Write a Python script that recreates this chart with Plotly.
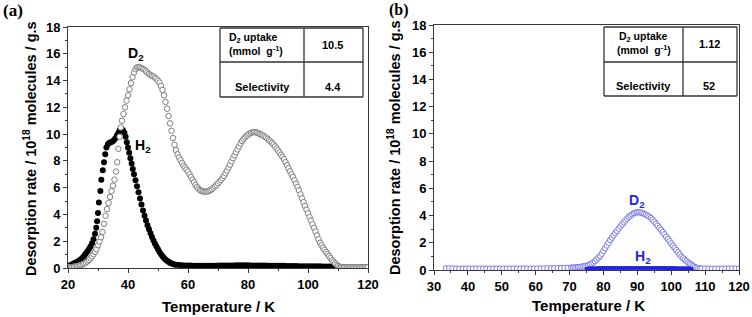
import plotly.graph_objects as go

# ---------------- data: panel (a) ----------------
a_d2_T = [20.0, 20.5, 21.0, 21.5, 22.0, 22.5, 23.0, 23.5, 24.0, 24.5, 25.0, 25.5, 26.0, 26.5, 27.0, 27.5,
          28.0, 28.5, 29.0, 29.5, 30.0, 30.5, 31.0, 31.5, 32.0, 32.5, 33.0, 33.5, 34.0, 34.5, 35.0, 35.5,
          36.0, 36.4, 36.8, 37.2, 37.6, 38.0, 38.5, 39.0, 39.5, 40.0, 40.5, 41.0, 41.5, 42.0, 42.5, 43.0,
          43.5, 44.0, 44.5, 45.0, 45.5, 46.0, 46.5, 47.0, 47.5, 48.0, 48.5, 49.0, 49.5, 50.0, 50.5, 51.0,
          51.5, 52.0, 52.5, 53.0, 53.5, 54.0, 54.5, 55.0, 55.5, 56.0, 56.5, 57.0, 57.5, 58.0, 58.5, 59.0,
          59.5, 60.0, 60.5, 61.0, 61.5, 62.0, 62.5, 63.0, 63.5, 64.0, 64.5, 65.0, 65.5, 66.0, 66.5, 67.0,
          67.5, 68.0, 68.5, 69.0, 69.5, 70.0, 70.5, 71.0, 71.5, 72.0, 72.5, 73.0, 73.5, 74.0, 74.5, 75.0,
          75.5, 76.0, 76.5, 77.0, 77.5, 78.0, 78.5, 79.0, 79.5, 80.0, 80.5, 81.0, 81.5, 82.0, 82.5, 83.0,
          83.5, 84.0, 84.5, 85.0, 85.5, 86.0, 86.5, 87.0, 87.5, 88.0, 88.5, 89.0, 89.5, 90.0, 90.5, 91.0,
          91.5, 92.0, 92.5, 93.0, 93.5, 94.0, 94.5, 95.0, 95.5, 96.0, 96.5, 97.0, 97.5, 98.0, 98.5, 99.0,
          99.5, 100.0, 100.5, 101.0, 101.5, 102.0, 102.5, 103.0, 103.5, 104.0, 104.5, 105.0, 105.5, 106.0,
          106.5, 107.0, 107.5, 108.0, 108.5, 109.0, 109.5, 110.0, 110.5, 111.0, 111.5, 112.0, 112.5, 113.0,
          113.5, 114.0, 114.5, 115.0, 115.5, 116.0, 116.5, 117.0, 117.5, 118.0, 118.5, 119.0, 119.5, 120.0]
a_d2_rate = [0.05, 0.06, 0.07, 0.08, 0.10, 0.12, 0.14, 0.17, 0.20, 0.24, 0.29, 0.35, 0.42, 0.50, 0.60, 0.72,
             0.86, 1.02, 1.20, 1.42, 1.70, 1.98, 2.30, 2.70, 3.30, 3.90, 4.40, 4.85, 5.30, 5.75, 6.15, 6.60,
             7.20, 7.90, 8.90, 9.80, 10.50, 11.00, 11.50, 12.00, 12.50, 12.90, 13.35, 13.80, 14.25, 14.60, 14.85, 14.98,
             15.00, 14.98, 14.93, 14.87, 14.80, 14.70, 14.60, 14.50, 14.42, 14.35, 14.30, 14.22, 14.12, 14.00, 13.85, 13.60,
             13.30, 12.90, 12.40, 11.90, 11.35, 10.80, 10.25, 9.70, 9.20, 8.80, 8.50, 8.25, 8.05, 7.85, 7.65, 7.50,
             7.35, 7.20, 7.00, 6.80, 6.60, 6.40, 6.20, 6.05, 5.92, 5.82, 5.76, 5.72, 5.70, 5.70, 5.72, 5.76,
             5.82, 5.90, 6.00, 6.10, 6.20, 6.32, 6.45, 6.58, 6.72, 6.88, 7.08, 7.28, 7.50, 7.72, 7.96, 8.20,
             8.42, 8.64, 8.86, 9.08, 9.30, 9.48, 9.63, 9.76, 9.87, 9.96, 10.04, 10.10, 10.14, 10.15, 10.14, 10.11,
             10.06, 10.00, 9.95, 9.90, 9.82, 9.75, 9.65, 9.55, 9.45, 9.35, 9.22, 9.08, 8.93, 8.78, 8.62, 8.46,
             8.30, 8.12, 7.90, 7.68, 7.45, 7.22, 7.00, 6.80, 6.55, 6.30, 6.05, 5.80, 5.50, 5.20, 4.92, 4.63,
             4.35, 4.08, 3.80, 3.53, 3.27, 3.00, 2.72, 2.44, 2.15, 1.88, 1.70, 1.52, 1.36, 1.20,
             1.05, 0.90, 0.75, 0.60, 0.47, 0.35, 0.25, 0.16, 0.10, 0.07, 0.06, 0.06, 0.06, 0.06,
             0.06, 0.06, 0.06, 0.06, 0.06, 0.06, 0.06, 0.06, 0.06, 0.06, 0.06, 0.06, 0.06, 0.06]

a_h2_T = [20.0, 20.5, 21.0, 21.5, 22.0, 22.5, 23.0, 23.5, 24.0, 24.5, 25.0, 25.5, 26.0, 26.5, 27.0, 27.5,
          28.0, 28.5, 29.0, 29.4, 29.7, 30.0, 30.3, 30.8, 31.1, 31.6, 32.0, 32.4, 32.8, 33.3, 33.8, 34.3,
          34.8, 35.3, 35.8, 36.3, 36.8, 37.3, 37.8, 38.3, 38.8, 39.2, 39.6, 40.0, 40.4, 40.8, 41.2, 41.6,
          42.0, 42.5, 43.0, 43.5, 44.0, 44.5, 45.0, 45.5, 46.0, 46.5, 47.0, 47.5, 48.0, 48.5, 49.0, 49.5,
          50.0, 50.5, 51.0, 51.5, 52.0, 52.5, 53.0, 53.5, 54.0, 54.5, 55.0, 55.5, 56.0, 57.0, 58.0, 59.0,
          60.0, 61.0, 62.0, 63.0, 64.0, 65.0, 66.0, 67.0, 68.0, 69.0, 70.0, 71.0, 72.0, 73.0, 74.0, 75.0,
          76.0, 77.0, 78.0, 79.0, 80.0, 81.0, 82.0, 83.0, 84.0, 85.0, 86.0, 87.0, 88.0, 89.0, 90.0, 91.0,
          92.0, 93.0, 94.0, 95.0, 96.0, 97.0, 98.0, 99.0, 100.0, 101.0, 102.0, 103.0, 104.0, 105.0, 106.0,
          107.0, 108.0, 109.0]
a_h2_rate = [0.15, 0.18, 0.22, 0.28, 0.35, 0.40, 0.45, 0.52, 0.60, 0.70, 0.80, 0.95, 1.10, 1.25, 1.42, 1.60,
             1.85, 2.15, 2.55, 3.00, 3.50, 4.10, 4.90, 5.75, 6.60, 7.30, 7.90, 8.50, 9.00, 9.25, 9.35, 9.40,
             9.45, 9.55, 9.70, 9.90, 10.10, 10.30, 10.40, 10.30, 10.10, 9.80, 9.40, 9.00, 8.60, 8.20, 7.80, 7.40,
             7.00, 6.55, 6.10, 5.65, 5.20, 4.75, 4.30, 3.90, 3.55, 3.20, 2.90, 2.60, 2.32, 2.06, 1.82, 1.60,
             1.40, 1.20, 1.03, 0.88, 0.75, 0.64, 0.54, 0.46, 0.39, 0.34, 0.30, 0.27, 0.25, 0.22, 0.20, 0.19,
             0.18, 0.18, 0.17, 0.17, 0.17, 0.17, 0.17, 0.17, 0.17, 0.17, 0.18, 0.18, 0.18, 0.19, 0.19, 0.19,
             0.20, 0.20, 0.20, 0.20, 0.20, 0.19, 0.19, 0.19, 0.18, 0.18, 0.18, 0.17, 0.17, 0.17, 0.16, 0.16,
             0.16, 0.15, 0.15, 0.15, 0.15, 0.14, 0.14, 0.14, 0.14, 0.13, 0.13, 0.13, 0.13, 0.12, 0.12,
             0.12, 0.12, 0.11]

# ---------------- data: panel (b) ----------------
b_d2_T = [33.5, 34.5, 35.5, 36.5, 37.5, 38.5, 39.5, 40.5, 41.5, 42.5, 43.5, 44.5, 45.5, 46.5, 47.5, 48.5,
          49.5, 50.5, 51.5, 52.5, 53.5, 54.5, 55.5, 56.5, 57.5, 58.5, 59.5, 60.5, 61.5, 62.5, 63.5, 64.5,
          65.5, 66.5, 67.5, 68.5, 69.5, 70.5, 71.0, 71.5, 72.0, 72.5, 73.0, 73.5, 74.0, 74.5, 75.0, 75.5,
          76.0, 76.5, 77.0, 77.5, 78.0, 78.5, 79.0, 79.5, 80.0, 80.5, 81.0, 81.5, 82.0, 82.5, 83.0, 83.5,
          84.0, 84.5, 85.0, 85.5, 86.0, 86.5, 87.0, 87.5, 88.0, 88.5, 89.0, 89.5, 90.0, 90.5, 91.0, 91.5,
          92.0, 92.5, 93.0, 93.5, 94.0, 94.5, 95.0, 95.5, 96.0, 96.5, 97.0, 97.5, 98.0, 98.5, 99.0, 99.5,
          100.0, 100.5, 101.0, 101.5, 102.0, 102.5, 103.0, 103.5, 104.0, 104.5, 105.0, 105.5, 106.0, 106.5,
          107.0, 107.5, 108.0, 108.5, 109.0, 110.0, 111.0, 112.0, 113.0, 114.0, 115.0, 116.0, 117.0, 118.0,
          119.0, 120.0]
b_d2_rate = [0.12, 0.11, 0.12, 0.10, 0.10, 0.10, 0.10, 0.10, 0.10, 0.10, 0.10, 0.10, 0.10, 0.10, 0.10, 0.10,
             0.10, 0.10, 0.10, 0.10, 0.10, 0.10, 0.10, 0.10, 0.10, 0.10, 0.10, 0.11, 0.11, 0.11, 0.12, 0.12,
             0.13, 0.13, 0.14, 0.15, 0.16, 0.17, 0.18, 0.19, 0.20, 0.21, 0.22, 0.24, 0.26, 0.28, 0.31, 0.35,
             0.40, 0.47, 0.55, 0.65, 0.78, 0.90, 1.02, 1.20, 1.40, 1.60, 1.80, 2.00, 2.20, 2.38, 2.55, 2.72,
             2.88, 3.04, 3.20, 3.35, 3.50, 3.64, 3.78, 3.90, 4.00, 4.10, 4.18, 4.22, 4.25, 4.24, 4.22, 4.18,
             4.12, 4.06, 4.00, 3.92, 3.82, 3.70, 3.55, 3.40, 3.25, 3.10, 2.95, 2.79, 2.62, 2.45, 2.28, 2.12,
             1.95, 1.78, 1.62, 1.46, 1.30, 1.14, 0.98, 0.86, 0.75, 0.65, 0.55, 0.46, 0.37, 0.29,
             0.22, 0.17, 0.13, 0.11, 0.10, 0.10, 0.10, 0.10, 0.10, 0.10, 0.10, 0.10, 0.10, 0.10,
             0.10, 0.10]

b_h2_T = [75.0, 75.5, 76.0, 76.5, 77.0, 77.5, 78.0, 78.5, 79.0, 79.5, 80.0, 80.5, 81.0, 81.5, 82.0, 82.5,
          83.0, 83.5, 84.0, 84.5, 85.0, 85.5, 86.0, 86.5, 87.0, 87.5, 88.0, 88.5, 89.0, 89.5, 90.0, 90.5,
          91.0, 91.5, 92.0, 92.5, 93.0, 93.5, 94.0, 94.5, 95.0, 95.5, 96.0, 96.5, 97.0, 97.5, 98.0, 98.5,
          99.0, 99.5, 100.0, 100.5, 101.0, 101.5, 102.0, 102.5, 103.0, 103.5, 104.0, 104.5, 105.0, 105.5, 106.0]
b_h2_rate = [0.10, 0.11, 0.12, 0.12, 0.13, 0.13, 0.13, 0.14, 0.14, 0.14, 0.14, 0.15, 0.15, 0.15, 0.15, 0.15,
             0.15, 0.15, 0.15, 0.15, 0.15, 0.15, 0.15, 0.15, 0.15, 0.15, 0.15, 0.15, 0.15, 0.15, 0.15, 0.15,
             0.15, 0.15, 0.15, 0.15, 0.15, 0.15, 0.15, 0.15, 0.15, 0.15, 0.15, 0.15, 0.15, 0.15, 0.14, 0.14,
             0.14, 0.14, 0.14, 0.14, 0.14, 0.13, 0.13, 0.13, 0.13, 0.13, 0.12, 0.12, 0.12, 0.11, 0.10]

a_x_ticks = [20, 40, 60, 80, 100, 120]
b_x_ticks = [30, 40, 50, 60, 70, 80, 90, 100, 110, 120]
y_ticks = [0, 2, 4, 6, 8, 10, 12, 14, 16, 18]

table_a = {"uptake": "10.5", "selectivity": "4.4"}
table_b = {"uptake": "1.12", "selectivity": "52"}

# ---------------- layout helpers ----------------
W, H = 752, 317
def px(x):
    return x / W
def py(y):
    return 1 - y / H

FONT = "Liberation Sans, Arial, sans-serif"
AXC = "#3a3a3a"
BLUE = "#2323e6"

fig = go.Figure()

fig.add_trace(go.Scatter(x=a_h2_T, y=a_h2_rate, mode="markers", xaxis="x", yaxis="y",
                         marker=dict(symbol="circle", size=6, color="black", line=dict(width=0)),
                         showlegend=False))
fig.add_trace(go.Scatter(x=a_d2_T, y=a_d2_rate, mode="markers", xaxis="x", yaxis="y",
                         marker=dict(symbol="circle", size=5.5, color="white",
                                     line=dict(width=1, color="#7e7e7e")),
                         showlegend=False))
fig.add_trace(go.Scatter(x=b_d2_T, y=b_d2_rate, mode="markers", xaxis="x2", yaxis="y2",
                         marker=dict(symbol="circle", size=5.5, color="white",
                                     line=dict(width=1, color="#7878e8")),
                         showlegend=False))
fig.add_trace(go.Scatter(x=b_h2_T, y=b_h2_rate, mode="markers", xaxis="x2", yaxis="y2",
                         marker=dict(symbol="circle", size=4, color=BLUE, line=dict(width=0)),
                         showlegend=False))

def xaxis(domain, rng, ticks, dtick_minor, anchor):
    return dict(domain=domain, range=rng, tickmode="array", tickvals=ticks, automargin=False,
                ticks="outside", ticklen=4, tickwidth=1, tickcolor=AXC,
                minor=dict(ticks="outside", ticklen=2, dtick=dtick_minor, tickcolor=AXC),
                showline=True, linecolor=AXC, linewidth=1, mirror=True,
                showgrid=False, zeroline=False, anchor=anchor,
                tickfont=dict(family=FONT, size=13, color="black", weight="bold"))

def yaxis(domain, anchor):
    return dict(domain=domain, range=[0, 18], tickmode="array", tickvals=y_ticks, automargin=False,
                ticks="outside", ticklen=4, tickwidth=1, tickcolor=AXC,
                minor=dict(ticks="outside", ticklen=2, dtick=1, tickcolor=AXC),
                showline=True, linecolor=AXC, linewidth=1, mirror=True,
                showgrid=False, zeroline=False, anchor=anchor,
                tickfont=dict(family=FONT, size=13, color="black", weight="bold"))

ann = []
shapes = []

def bold(size, color="black", family=FONT):
    return dict(family=family, size=size, color=color, weight="bold")

def label(x, y, text, font, xanchor="center"):
    ann.append(dict(x=px(x), y=py(y), xref="paper", yref="paper", showarrow=False,
                    xanchor=xanchor, yanchor="middle", text=text, font=font))

# axis titles
for xc, yc in [(30, 149), (394, 148)]:
    ann.append(dict(x=px(xc), y=py(yc), xref="paper", yref="paper", showarrow=False,
                    textangle=-90, xanchor="center", yanchor="middle",
                    text="Desorption rate / 10<sup>18</sup> molecules / g.s", font=bold(14.5)))
for xc, yc in [(218, 306), (588, 305)]:
    label(xc, yc, "Temperature / K", bold(15))

# panel labels
SERIF = "Liberation Serif, Times New Roman, serif"
label(1, 10, "(a)", bold(17, family=SERIF), xanchor="left")
label(387, 10, "(b)", bold(16, family=SERIF), xanchor="left")

# curve labels
label(136, 54, "D<sub>2</sub>", bold(14))
label(143, 146, "H<sub>2</sub>", bold(14))
label(637, 201, "D<sub>2</sub>", bold(14, BLUE))
label(643, 257, "H<sub>2</sub>", bold(14, BLUE))

# tables
def table(x0, xm, x1, y0, ym, y1, vals, left_align):
    for (a, b, c, d) in [(x0, y0, x1, y0), (x0, y1, x1, y1), (x0, y0, x0, y1), (x1, y0, x1, y1),
                         (x0, ym, x1, ym), (xm, y0, xm, y1)]:
        shapes.append(dict(type="line", xref="paper", yref="paper", x0=px(a), y0=py(b),
                           x1=px(c), y1=py(d), line=dict(color="#333333", width=1.3)))
    if left_align:
        lx, anc = x0 + 7, "left"
    else:
        lx, anc = (x0 + xm) / 2, "center"
    label(lx, y0 + 10, "D<sub>2</sub> uptake", bold(10.5), xanchor=anc)
    label(lx, y0 + 22, "(mmol  g<sup>-1</sup>)", bold(10.5), xanchor=anc)
    label((x0 + xm) / 2, y1 - 10, "Selectivity", bold(11))
    label((xm + x1) / 2 - 1, y0 + 17, vals["uptake"], bold(11))
    label((xm + x1) / 2 - 1, y1 - 10, vals["selectivity"], bold(11))

table(220, 304, 363, 28, 62, 97, table_a, True)
table(604, 683, 737, 27, 62, 96, table_b, False)

fig.update_layout(
    width=W, height=H, autosize=False,
    margin=dict(l=0, r=0, t=0, b=0, pad=0, autoexpand=False),
    paper_bgcolor="white", plot_bgcolor="white",
    xaxis=xaxis([px(68), px(368)], [20, 120], a_x_ticks, 10, "y"),
    yaxis=yaxis([py(268), py(27)], "x"),
    xaxis2=xaxis([px(434), px(739)], [30, 120], b_x_ticks, 5, "y2"),
    yaxis2=yaxis([py(270), py(25)], "x2"),
    annotations=ann, shapes=shapes, showlegend=False,
)

fig.write_html("out.html")
